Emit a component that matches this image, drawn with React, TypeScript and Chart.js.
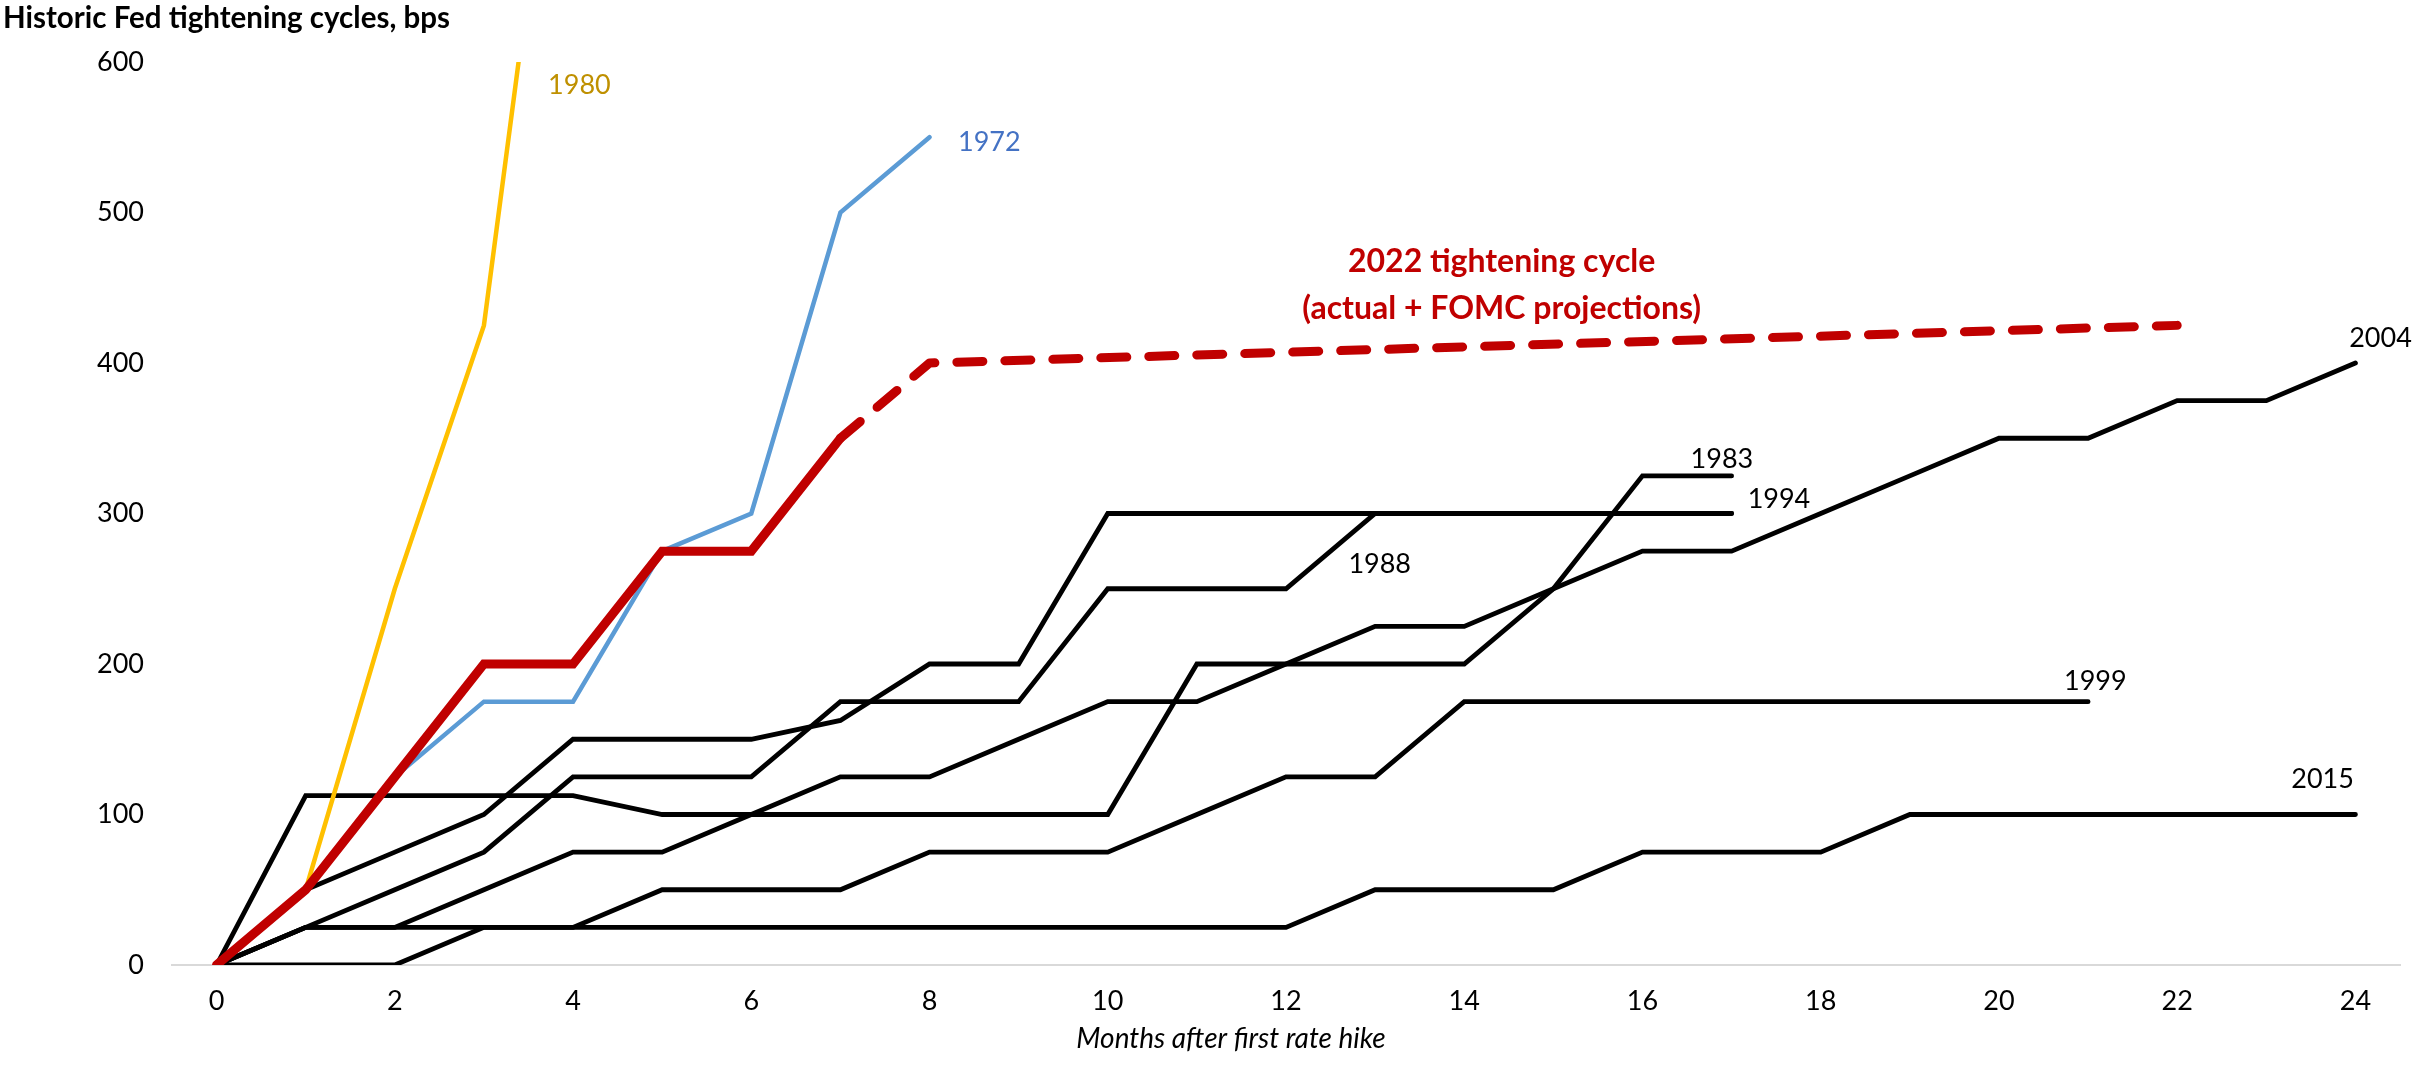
import React, { useEffect, useRef } from "react";
import { Chart, registerables } from "chart.js";

Chart.register(...registerables);

// ---- Data (months after first rate hike, bps) ----
const months = Array.from({ length: 25 }, (_, i) => i);
const xTicks = [0, 2, 4, 6, 8, 10, 12, 14, 16, 18, 20, 22, 24];
const yTicks = [0, 100, 200, 300, 400, 500, 600];

const cycle2022Actual = [0, 50, 125, 200, 200, 275, 275, 350];
const cycle2022Projection = [null, null, null, null, null, null, null, 350, 400, null, null, null, null, null, null, null, null, null, null, null, null, null, 425];
const cycle1980 = [0, 50, 250, 425, 875];
const cycle1972 = [0, 50, 125, 175, 175, 275, 300, 500, 550];
const cycle1983 = [0, 112.5, 112.5, 112.5, 112.5, 100, 100, 100, 100, 100, 100, 200, 200, 200, 200, 250, 325, 325];
const cycle1994 = [0, 50, 75, 100, 150, 150, 150, 162.5, 200, 200, 300, 300, 300, 300, 300, 300, 300, 300];
const cycle1988 = [0, 25, 50, 75, 125, 125, 125, 175, 175, 175, 250, 250, 250, 300, 300, 300, 300, 300];
const cycle2004 = [0, 25, 25, 50, 75, 75, 100, 125, 125, 150, 175, 175, 200, 225, 225, 250, 275, 275, 300, 325, 350, 350, 375, 375, 400];
const cycle1999 = [0, 0, 0, 25, 25, 50, 50, 50, 75, 75, 75, 100, 125, 125, 175, 175, 175, 175, 175, 175, 175, 175];
const cycle2015 = [0, 25, 25, 25, 25, 25, 25, 25, 25, 25, 25, 25, 25, 50, 50, 50, 75, 75, 75, 100, 100, 100, 100, 100, 100];

// Series labels (text, anchor month, anchor bps, colour)
const labelTexts = ["1980", "1972", "2004", "1983", "1994", "1988", "1999", "2015"];
const labelMonths = [3.72, 8.32, 23.93, 16.54, 17.18, 12.7, 20.73, 23.28];
const labelValues = [585, 547, 417, 337, 310, 267, 189, 124];
const labelColors = ["#BF9000", "#4472C4", "#000", "#000", "#000", "#000", "#000", "#000"];

const cycle2022Title = ["2022 tightening cycle", "(actual + FOMC projections)"];
const cycle2022TitleMonth = 14.42;
const cycle2022TitleValues = [468, 437];

const chartTitle = "Historic Fed tightening cycles, bps";
const xAxisTitle = "Months after first rate hike";

const FONT = "Lato, 'Open Sans', sans-serif";

function toPoints(values: (number | null)[]) {
  return values.map((v, i) => ({ x: months[i], y: v }));
}

const annotationPlugin = {
  id: "annotations",
  afterDatasetsDraw(chart: any) {
    const { ctx, scales } = chart;
    const xs = scales.x;
    const ys = scales.y;
    ctx.save();
    // series labels
    ctx.font = `27px ${FONT}`;
    ctx.textAlign = "left";
    ctx.textBaseline = "alphabetic";
    labelTexts.forEach((t, i) => {
      ctx.fillStyle = labelColors[i];
      ctx.fillText(t, xs.getPixelForValue(labelMonths[i]), ys.getPixelForValue(labelValues[i]) + 27 * 0.36);
    });
    // 2022 label
    ctx.font = `bold 32px ${FONT}`;
    ctx.fillStyle = "#C00000";
    ctx.textAlign = "center";
    cycle2022Title.forEach((t, i) => {
      ctx.fillText(t, xs.getPixelForValue(cycle2022TitleMonth), ys.getPixelForValue(cycle2022TitleValues[i]) + 32 * 0.36);
    });
    ctx.restore();
  },
  afterDraw(chart: any) {
    const { ctx } = chart;
    ctx.save();
    ctx.fillStyle = "#000";
    ctx.textAlign = "left";
    ctx.textBaseline = "alphabetic";
    ctx.font = `bold 29.5px ${FONT}`;
    ctx.fillText(chartTitle, 3, 28);
    ctx.font = `italic 28px ${FONT}`;
    ctx.textAlign = "center";
    ctx.fillText(xAxisTitle, 1231, 1048);
    ctx.restore();
  },
};

export default function App() {
  const canvasRef = useRef<HTMLCanvasElement | null>(null);

  useEffect(() => {
    document.body.style.margin = "0";
    document.body.style.overflow = "hidden";
    const canvas = canvasRef.current;
    if (!canvas) return;

    const black = (data: (number | null)[]) => ({
      data: toPoints(data),
      borderColor: "#000000",
      borderWidth: 4.8,
      pointRadius: 0,
      borderCapStyle: "round",
      borderJoinStyle: "miter",
      tension: 0,
    });

    const chart = new Chart(canvas, {
      type: "line",
      data: {
        datasets: [
          {
            data: toPoints(cycle2022Actual),
            borderColor: "#C00000",
            borderWidth: 9,
            pointRadius: 0,
            borderCapStyle: "round",
            borderJoinStyle: "miter",
          },
          {
            data: toPoints(cycle2022Projection),
            borderColor: "#C00000",
            borderWidth: 9,
            pointRadius: 0,
            borderDash: [26, 22],
            borderCapStyle: "round",
            borderJoinStyle: "round",
            spanGaps: true,
          },
          {
            data: toPoints(cycle1972),
            borderColor: "#5B9BD5",
            borderWidth: 4.5,
            pointRadius: 0,
            borderCapStyle: "round",
          },
          {
            data: toPoints(cycle1980),
            borderColor: "#FFC000",
            borderWidth: 4.5,
            pointRadius: 0,
            borderCapStyle: "round",
          },
          black(cycle1983),
          black(cycle1994),
          black(cycle1988),
          black(cycle2004),
          black(cycle1999),
          black(cycle2015),
        ] as any,
      },
      options: {
        responsive: false,
        animation: false,
        events: [],
        layout: { padding: { top: 62, right: 20, left: 0, bottom: 0 } },
        plugins: {
          legend: { display: false },
          tooltip: { enabled: false },
          title: { display: false },
        },
        scales: {
          x: {
            type: "linear",
            min: -0.5,
            max: 24.5,
            afterBuildTicks: (s: any) => {
              s.ticks = xTicks.map((v) => ({ value: v }));
            },
            afterFit: (s: any) => {
              s.height = 102;
            },
            grid: { display: false, drawTicks: false },
            border: { display: true, color: "#D9D9D9", width: 2 },
            ticks: {
              font: { family: FONT, size: 27 },
              color: "#000",
              padding: 20,
              maxRotation: 0,
              autoSkip: false,
            },
          },
          y: {
            type: "linear",
            min: 0,
            max: 600,
            afterBuildTicks: (s: any) => {
              s.ticks = yTicks.map((v) => ({ value: v }));
            },
            afterFit: (s: any) => {
              s.width = 172;
            },
            grid: { display: false, drawTicks: false },
            border: { display: false },
            ticks: {
              font: { family: FONT, size: 27 },
              color: "#000",
              padding: 28,
            },
          },
        },
      } as any,
      plugins: [annotationPlugin],
    });

    return () => chart.destroy();
  }, []);

  return (
    <div style={{ width: 2420, height: 1067, position: "relative", background: "#fff" }}>
      <canvas ref={canvasRef} width={2420} height={1067} style={{ display: "block", width: 2420, height: 1067 }} />
    </div>
  );
}
